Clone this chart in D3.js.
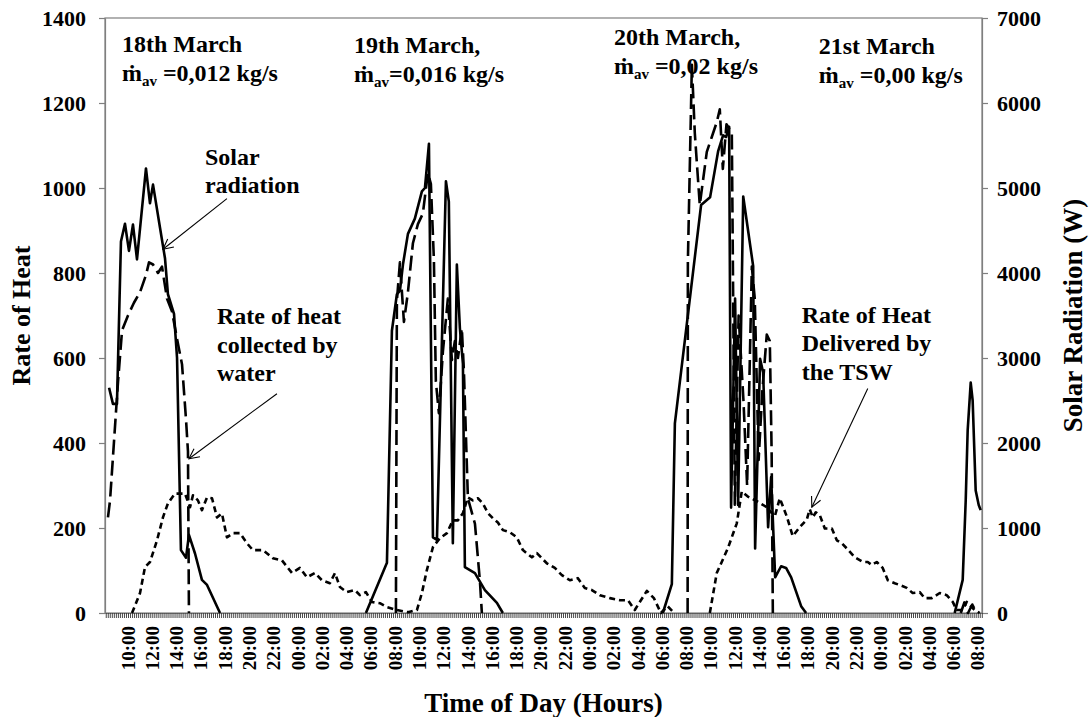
<!DOCTYPE html>
<html>
<head>
<meta charset="utf-8">
<script src="https://cdn.jsdelivr.net/npm/d3@7"></script>
<style>
  body { margin: 0; background: #fff; }
  text { font-family: "Liberation Serif", "Times New Roman", serif; font-weight: bold; fill: #000; }
</style>
</head>
<body>
<svg id="chart" width="1091" height="717"></svg>
<script>
// Time is in hours counted from 00:00 on 18 March; null marks a break in a trace.

// Solar radiation on the collector (W, right axis)
const solarHours = [8.44, 8.76, 9.09, 9.42, 9.75, 10.08, 10.41, 10.74, 11.48, 11.81, 12.06, 12.64, 13.05, 13.29, 13.79, 14.04, 14.36, 14.78, 15.02, 15.52, 16.09, 16.51, 17.16, 17.58,
  20.0,
  29.60, 31.33, 31.74, 32.15, 32.40, 32.65, 33.06, 33.63, 34.21, 34.46, 34.79, 35.12, 35.45, 36.19, 36.43, 36.76, 37.09, 37.34, 37.59, 37.75, 38.58, 39.40, 40.39, 40.88,
  45.0,
  54.06, 54.80, 55.05, 57.21, 57.95, 58.61, 59.02, 59.27, 59.52, 59.68, 60.01, 60.26, 60.68, 61.50, 61.66, 62.07, 62.32, 62.73, 62.98, 63.31, 63.80, 64.21, 64.63, 65.45, 65.86,
  70.0,
  78.10, 78.76, 79.01, 79.17, 79.42, 79.58, 79.83, 80.08, 80.24];
const solarWatts = [2650, 2460, 2460, 4370, 4580, 4260, 4570, 4160, 5230, 4820, 5040, 4530, 4170, 3750, 3520, 3000, 740, 650, 920, 700, 390, 330, 130, 0,
  null,
  0, 590, 3320, 3750, 3790, 4100, 4460, 4640, 4960, 5000, 5520, 890, 860, 5080, 4840, 820, 4100, 3350, 2930, 540, 470, 270, 120, 0,
  null,
  0, 340, 2230, 4800, 4890, 5430, 5620, 5600, 5720, 1240, 3700, 1270, 4900, 4080, 760, 2990, 2830, 1010, 1600, 420, 550, 530, 420, 80, 0,
  null,
  0, 390, 1330, 2150, 2710, 2500, 1440, 1270, 1210];

// Rate of heat collected by the water (left axis)
const collectedHours = [8.35, 8.52, 8.85, 9.18, 9.51, 10.00, 10.49, 10.99, 11.48, 11.73, 12.06, 12.47, 12.80, 13.21, 13.62, 14.04, 14.45, 14.78, 14.94, 15.02,
  20.0,
  32.07, 32.15, 32.40, 32.73, 33.06, 33.47, 33.88, 34.29, 34.70, 34.95, 35.20, 35.36, 35.61, 35.94, 36.35, 36.68, 36.93, 37.18, 37.50, 37.67, 38.00, 38.58, 38.99, 39.15,
  45.0,
  56.10, 56.12, 56.45, 56.69, 57.10, 57.68, 58.09, 58.50, 58.75, 59.00, 59.30, 59.74, 59.99, 60.30, 60.70, 61.00, 61.39, 61.63, 61.95, 62.25, 62.62, 62.87, 63.02, 63.12,
  70.0,
  78.60, 78.90, 79.20, 79.55, 79.90];
const collectedHeat = [225, 265, 405, 545, 665, 700, 730, 755, 795, 825, 820, 800, 815, 740, 710, 645, 585, 455, 380, 0,
  null,
  0, 735, 825, 685, 755, 870, 915, 940, 1035, 1010, 830, 545, 470, 615, 740, 595, 640, 600, 670, 570, 270, 210, 75, 0,
  null,
  0, 825, 1290, 1130, 960, 1085, 1120, 1155, 1185, 1045, 1150, 1130, 255, 700, 500, 300, 815, 740, 360, 520, 655, 640, 380, 0,
  null,
  0, 25, 0, 20, 0];

// Rate of heat delivered by the thermal storage wall (left axis)
const deliveredHours = [10.33, 10.99, 11.40, 11.81, 12.39, 12.88, 13.29, 13.87, 14.69, 15.11, 15.35, 15.76, 16.09, 16.51, 16.92, 17.33, 17.74, 18.15, 18.65, 19.22, 19.80, 20.29, 21.12, 21.94, 22.68, 23.51, 24.16, 24.74, 25.40, 25.98, 26.63, 27.05, 27.46, 28.03, 28.69, 29.10, 29.60, 30.09, 30.75, 31.33, 32.15, 33.06, 33.80, 34.21, 34.62, 35.12, 35.69, 36.27, 36.76, 37.18, 37.59, 38.00, 38.41, 38.82, 39.23, 39.65, 40.06, 40.47, 40.88, 41.46, 42.03, 42.53, 43.27, 43.68, 44.09, 44.50, 45.16, 45.74, 46.40, 47.06, 47.63, 48.21, 48.87, 49.69, 50.52, 51.18, 51.75, 52.16, 52.74, 53.32, 53.90, 54.45, 55.00,
  56.5,
  57.93, 58.50, 59.41, 60.15, 60.56, 61.06, 61.80, 62.62, 63.28, 63.69, 64.27, 64.76, 65.34, 65.92, 66.16, 66.41, 66.66, 66.99, 67.40, 67.98, 68.39, 68.80, 69.21, 69.87, 70.53, 70.94, 71.27, 71.68, 72.17, 72.59, 73.16, 73.57, 74.15, 74.64, 75.22, 75.63, 76.21, 76.87, 77.44, 77.94, 78.27, 78.76, 79.09, 79.50, 79.75, 80.16];
const deliveredHeat = [0, 47, 108, 120, 171, 225, 258, 281, 281, 249, 277, 265, 242, 272, 270, 225, 234, 178, 188, 188, 164, 148, 148, 129, 124, 94, 106, 84, 94, 77, 70, 94, 61, 49, 54, 42, 49, 26, 23, 14, 7, 2, 7, 47, 101, 155, 176, 188, 218, 218, 235, 272, 265, 270, 258, 235, 223, 213, 195, 190, 178, 148, 131, 141, 129, 117, 106, 89, 77, 82, 59, 54, 42, 35, 30, 30, 7, 26, 52, 35, 0, 16, 0,
  null,
  0, 94, 152, 211, 286, 274, 263, 249, 227, 270, 227, 181, 202, 220, 244, 225, 237, 230, 199, 199, 171, 164, 152, 131, 120, 120, 113, 120, 106, 77, 70, 66, 59, 47, 49, 35, 35, 47, 42, 26, 7, 7, 26, 14, 7, 0];

// Axis ticks
const heatTicks = [0, 200, 400, 600, 800, 1000, 1200, 1400];
const solarTicks = [0, 1000, 2000, 3000, 4000, 5000, 6000, 7000];
const hourLabelTicks = d3.range(10, 81, 2);

// Day captions, anchored at (hour, heat value of the first baseline)
const dayCaptions = [
  { hour: 9.50, heat: 1320, day: "18th March", flow: " =0,012 kg/s" },
  { hour: 28.62, heat: 1318, day: "19th March,", flow: "=0,016 kg/s" },
  { hour: 50.03, heat: 1337, day: "20th March,", flow: " =0,02 kg/s" },
  { hour: 66.90, heat: 1316, day: "21st March", flow: " =0,00 kg/s" }
];

// Curve call-outs: text lines, text anchor (hour, heat) and arrow (from -> to)
const callouts = [
  { lines: ["Solar", "radiation"], hour: 16.34, heat: 1055, from: [18.15, 975], to: [12.88, 856] },
  { lines: ["Rate of heat", "collected by", "water"], hour: 17.33, heat: 680, from: [22.27, 516], to: [15.02, 363] },
  { lines: ["Rate of Heat", "Delivered by", "the TSW"], hour: 65.50, heat: 683, from: [70.94, 528], to: [66.33, 249] }
];

const svg = d3.select("#chart");
const plot = { left: 105, right: 982, top: 18, bottom: 613 };

const x = d3.scaleLinear().domain([8.105, 80.35]).range([plot.left, plot.right]);
const yHeat = d3.scaleLinear().domain([0, 1400]).range([plot.bottom, plot.top]);
const ySolar = d3.scaleLinear().domain([0, 7000]).range([plot.bottom, plot.top]);

svg.append("rect").attr("width", 1091).attr("height", 717).attr("fill", "#fff");

const axisColor = "#7f7f7f";

// Plot frame
svg.append("rect")
  .attr("x", plot.left).attr("y", plot.top)
  .attr("width", plot.right - plot.left).attr("height", plot.bottom - plot.top)
  .attr("fill", "none").attr("stroke", axisColor).attr("stroke-width", 1.2);

// Left and right value axes
const gLeft = svg.append("g").attr("transform", `translate(${plot.left},0)`)
  .call(d3.axisLeft(yHeat).tickValues(heatTicks).tickFormat(d3.format("d"))
    .tickSize(6).tickSizeOuter(0).tickPadding(13));
const gRight = svg.append("g").attr("transform", `translate(${plot.right},0)`)
  .call(d3.axisRight(ySolar).tickValues(solarTicks).tickFormat(d3.format("d"))
    .tickSize(6).tickSizeOuter(0).tickPadding(9));

[gLeft, gRight].forEach(g => {
  g.attr("font-family", null).attr("font-size", null);
  g.select(".domain").attr("stroke", axisColor).attr("stroke-width", 1.2);
  g.selectAll(".tick line").attr("stroke", axisColor).attr("stroke-width", 1.2);
  g.selectAll(".tick text").attr("font-size", 22).attr("fill", "#000");
});

// Bottom axis: a tick every ten minutes, labels every two hours
const minorTicks = d3.range(Math.ceil(x.domain()[0] * 6), Math.floor(x.domain()[1] * 6) + 1).map(k => k / 6);
const gBottom = svg.append("g").attr("transform", `translate(0,${plot.bottom})`);
gBottom.call(d3.axisBottom(x).tickValues(minorTicks).tickSize(5).tickSizeOuter(0).tickFormat(""));
gBottom.select(".domain").attr("stroke", axisColor).attr("stroke-width", 1.2);
gBottom.selectAll(".tick line").attr("stroke", "#333").attr("stroke-width", 0.9);

const fmtHour = h => String(h % 24).padStart(2, "0") + ":00";
svg.append("g").selectAll("text")
  .data(hourLabelTicks)
  .join("text")
  .attr("transform", d => `translate(${x(d)},626) rotate(-90)`)
  .attr("text-anchor", "end")
  .attr("dy", "0.35em")
  .attr("font-size", 19)
  .text(fmtHour);

// Axis titles
svg.append("text").attr("x", (plot.left + plot.right) / 2).attr("y", 712)
  .attr("text-anchor", "middle").attr("font-size", 27).text("Time of Day (Hours)");
svg.append("text").attr("transform", `translate(30,${(plot.top + plot.bottom) / 2}) rotate(-90)`)
  .attr("text-anchor", "middle").attr("font-size", 26).text("Rate of Heat");
svg.append("text").attr("transform", `translate(1082,${(plot.top + plot.bottom) / 2}) rotate(-90)`)
  .attr("text-anchor", "middle").attr("font-size", 27).text("Solar Radiation (W)");

// Traces
const zip = (hs, vs) => hs.map((h, i) => [h, vs[i]]);
const lineOn = y => d3.line().defined(d => d[1] != null).x(d => x(d[0])).y(d => y(d[1]));

const traces = svg.append("g").attr("fill", "none").attr("stroke", "#000").attr("stroke-linejoin", "round");
traces.append("path").datum(zip(deliveredHours, deliveredHeat))
  .attr("d", lineOn(yHeat)).attr("stroke-width", 2.6).attr("stroke-dasharray", "6,4");
traces.append("path").datum(zip(collectedHours, collectedHeat))
  .attr("d", lineOn(yHeat)).attr("stroke-width", 2.6).attr("stroke-dasharray", "15,6");
traces.append("path").datum(zip(solarHours, solarWatts))
  .attr("d", lineOn(ySolar)).attr("stroke-width", 2.6);

// Day captions with the average mass flow rate
const capG = svg.append("g");
dayCaptions.forEach(c => {
  const px = x(c.hour), py = yHeat(c.heat);
  capG.append("text").attr("x", px).attr("y", py).attr("font-size", 24).text(c.day);
  const t = capG.append("text").attr("x", px).attr("y", py + 29).attr("font-size", 24);
  t.append("tspan").text("\u1E41");
  t.append("tspan").attr("font-size", 15).attr("dy", 5).text("av");
  t.append("tspan").attr("dy", -5).text(c.flow);
});

// Call-outs with open arrowheads
const defs = svg.append("defs");
defs.append("marker").attr("id", "openArrow")
  .attr("viewBox", "0 0 12 12").attr("refX", 11).attr("refY", 6)
  .attr("markerWidth", 12).attr("markerHeight", 12).attr("markerUnits", "userSpaceOnUse")
  .attr("orient", "auto")
  .append("path").attr("d", "M1,1 L11,6 L1,11").attr("fill", "none").attr("stroke", "#000").attr("stroke-width", 1.1);

const callG = svg.append("g");
callouts.forEach(c => {
  const px = x(c.hour), py = yHeat(c.heat);
  c.lines.forEach((ln, i) => {
    callG.append("text").attr("x", px).attr("y", py + i * 28.5).attr("font-size", 24).text(ln);
  });
  callG.append("line")
    .attr("x1", x(c.from[0])).attr("y1", yHeat(c.from[1]))
    .attr("x2", x(c.to[0])).attr("y2", yHeat(c.to[1]))
    .attr("stroke", "#000").attr("stroke-width", 1.1)
    .attr("marker-end", "url(#openArrow)");
});
</script>
</body>
</html>
